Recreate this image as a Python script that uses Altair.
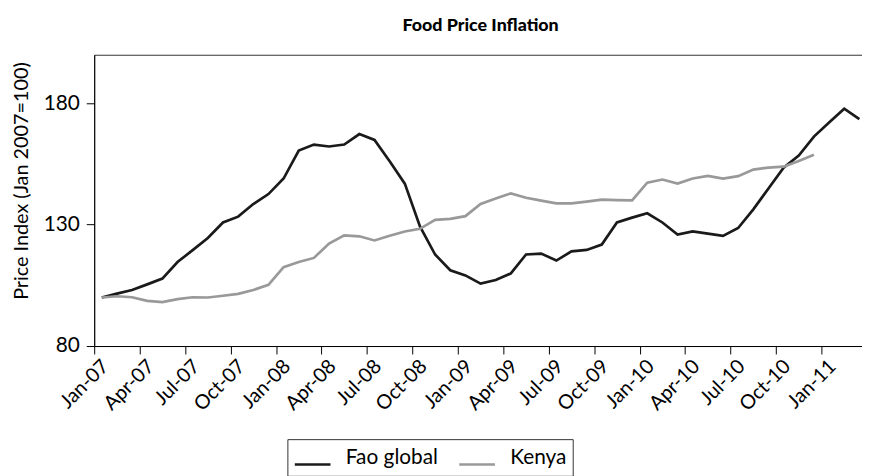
import altair as alt
import pandas as pd

months = [
    "Jan-07", "Feb-07", "Mar-07", "Apr-07", "May-07", "Jun-07", "Jul-07", "Aug-07", "Sep-07", "Oct-07", "Nov-07", "Dec-07",
    "Jan-08", "Feb-08", "Mar-08", "Apr-08", "May-08", "Jun-08", "Jul-08", "Aug-08", "Sep-08", "Oct-08", "Nov-08", "Dec-08",
    "Jan-09", "Feb-09", "Mar-09", "Apr-09", "May-09", "Jun-09", "Jul-09", "Aug-09", "Sep-09", "Oct-09", "Nov-09", "Dec-09",
    "Jan-10", "Feb-10", "Mar-10", "Apr-10", "May-10", "Jun-10", "Jul-10", "Aug-10", "Sep-10", "Oct-10", "Nov-10", "Dec-10",
    "Jan-11", "Feb-11", "Mar-11",
]

tick_labels = ["Jan-07", "Apr-07", "Jul-07", "Oct-07", "Jan-08", "Apr-08", "Jul-08", "Oct-08",
               "Jan-09", "Apr-09", "Jul-09", "Oct-09", "Jan-10", "Apr-10", "Jul-10", "Oct-10", "Jan-11"]

fao_global = [
    100.0, 101.6, 103.1, 105.4, 107.8, 114.6, 119.5, 124.5, 130.9, 133.3, 138.5, 142.6,
    149.0, 160.5, 163.0, 162.2, 163.0, 167.3, 164.9, 156.1, 146.9, 129.3, 117.7, 111.2,
    109.1, 105.7, 107.2, 109.9, 117.7, 118.1, 115.2, 119.0, 119.6, 121.8, 130.9, 132.9,
    134.7, 130.9, 125.9, 127.2, 126.3, 125.4, 128.6, 136.3, 144.9, 153.5, 158.5, 166.3,
    172.1, 177.8, 173.5,
]

kenya = [
    100.0, 100.5, 100.1, 98.6, 98.1, 99.3, 100.1, 100.0, 100.7, 101.5, 103.1, 105.2,
    112.5, 114.6, 116.3, 122.2, 125.6, 125.2, 123.5, 125.4, 127.2, 128.3, 132.0, 132.4,
    133.5, 138.5, 140.8, 142.9, 141.1, 139.9, 138.8, 138.8, 139.5, 140.3, 140.1, 140.0,
    147.3, 148.6, 146.9, 149.0, 150.1, 149.0, 150.0, 152.7, 153.5, 153.9, 156.2, 158.8,
]

series_names = ["Fao global", "Kenya"]
series_colors = ["#1a1a1a", "#999999"]

rows = []
for name, vals in zip(series_names, [fao_global, kenya]):
    for i, v in enumerate(vals):
        rows.append({"series": name, "month": months[i], "pos": i + 0.5, "value": v})
df = pd.DataFrame(rows)

tick_positions = [months.index(t) for t in tick_labels]
label_expr = "[" + ",".join("'" + t + "'" for t in tick_labels) + "][round(datum.value / 3)]"

FONT = "Lato"

chart = (
    alt.Chart(df)
    .mark_line(strokeWidth=2.7, clip=True)
    .encode(
        x=alt.X(
            "pos:Q",
            scale=alt.Scale(domain=[0, len(months)], nice=False, zero=False),
            axis=alt.Axis(
                values=tick_positions,
                labelExpr=label_expr,
                labelAngle=-45,
                labelOverlap=False,
                labelBound=False,
                labelFlush=False,
                title=None,
                grid=False,
                tickSize=8,
                labelFontSize=20,
                labelPadding=2,
                labelOffset=4,
            ),
        ),
        y=alt.Y(
            "value:Q",
            scale=alt.Scale(domain=[80, 200], nice=False, zero=False),
            axis=alt.Axis(
                values=[80, 130, 180],
                title="Price Index (Jan 2007=100)",
                titleFontWeight="normal",
                titleFontSize=20,
                titleAngle=270,
                titleBaseline="alphabetic",
                titleAlign="center",
                titleX=-67,
                titleY=127,
                labelFontSize=21,
                tickSize=8,
                labelPadding=7,
                grid=False,
            ),
        ),
        color=alt.Color(
            "series:N",
            scale=alt.Scale(domain=series_names, range=series_colors),
            legend=alt.Legend(
                title=None,
                orient="none",
                legendX=195,
                legendY=388,
                direction="horizontal",
                symbolType="stroke",
                symbolSize=1296,
                symbolStrokeWidth=2.7,
                labelFontSize=21,
                labelBaseline="alphabetic",
                labelOffset=14,
                columnPadding=15,
                padding=6,
                strokeColor="#333333",
            ),
        ),
    )
    .properties(
        width=780,
        height=294,
        title=alt.TitleParams(
            "Food Price Inflation",
            fontSize=18,
            fontWeight=900,
            offset=6,
            baseline="alphabetic",
            anchor="middle",
            frame="group",
            color="black",
        ),
        padding={"left": 87, "top": 45, "right": -5, "bottom": 129},
        autosize=alt.AutoSizeParams(type="none"),
    )
    .configure(font=FONT)
    .configure_view(stroke="#333333", strokeWidth=1)
    .configure_axis(
        domainColor="black",
        tickColor="black",
        labelColor="black",
        titleColor="black",
        labelFont=FONT,
        titleFont=FONT,
    )
    .configure_legend(labelFont=FONT, labelColor="black")
    .configure_title(font=FONT)
)

chart.save("out.html", embed_options={"renderer": "svg", "actions": False})
